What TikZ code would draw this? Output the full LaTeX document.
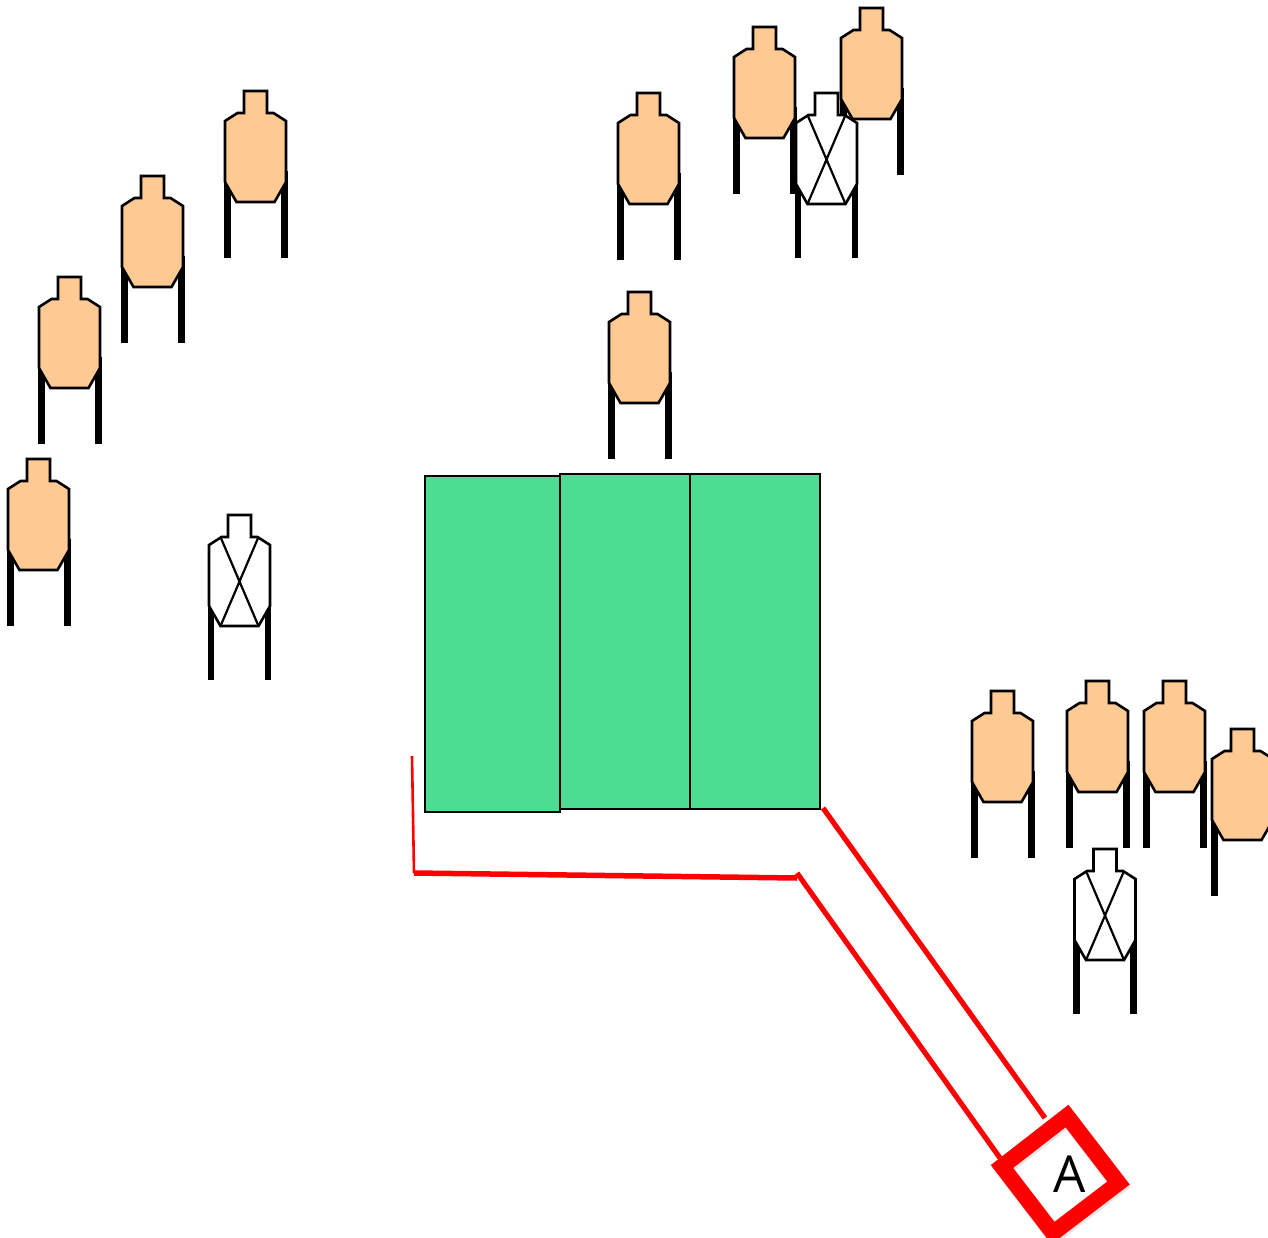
\documentclass[tikz,border=0pt]{standalone}
\usepackage{fontspec}
\setmainfont{Open Sans}
\definecolor{tan}{HTML}{FFC994}
\definecolor{pad}{HTML}{4CDD93}
\definecolor{tape}{HTML}{FF0000}
\tikzset{
  x=1pt,y=-1pt,
  outline/.style={draw=black,line width=2.6pt,line join=miter},
  legline/.style={line width=#1,draw=black},
  padbox/.style={draw=black,fill=pad,line width=1.9pt},
  tapeline/.style={draw=tape,line width=#1},
  tapeshade/.style={draw=black,opacity=0.10,line width=#1},
  body/.pic={
    \path[pic actions] (-11.5,0) -- (11.5,0) -- (11.5,22) -- (18,22) -- (30.5,30) -- (30.5,91) -- (19,111) -- (-19,111) -- (-30.5,91) -- (-30.5,30) -- (-18,22) -- (-11.5,22) -- cycle;
  },
  shoot/.pic={
    \draw[legline=7pt] (-28.5,80) -- (-28.5,167);
    \draw[legline=7pt] (28.5,80) -- (28.5,167);
    \path pic[outline,fill=tan] {body};
  },
  noshoot/.pic={
    \draw[legline=6.4pt] (-28.5,80) -- (-28.5,165);
    \draw[legline=6.4pt] (28.5,80) -- (28.5,165);
    \path pic[outline,fill=white] {body};
    \draw[line width=2.2pt] (-19,22) -- (19,111) (19,22) -- (-19,111);
  }
}
\begin{document}
\begin{tikzpicture}
\useasboundingbox (0,0) rectangle (1268,1238);
\clip (0,0) rectangle (1268,1238);
% targets
\path (255.5,91) pic {shoot};
\path (152.5,176) pic {shoot};
\path (69.5,277) pic {shoot};
\path (38.5,459) pic {shoot};
\path (648.5,93) pic {shoot};
\path (764.5,27) pic {shoot};
\path (871.5,8) pic {shoot};
\path (639.5,292) pic {shoot};
\path (1002.5,691) pic {shoot};
\path (1097.5,681) pic {shoot};
\path (1174.5,681) pic {shoot};
\path (1242.5,729) pic {shoot};
\path (239.5,515) pic {noshoot};
\path (826.5,93) pic {noshoot};
\path (1105,849) pic {noshoot};
% shooting area
\draw[padbox] (425,476) rectangle (560,812);
\draw[padbox] (560,474) rectangle (690,809);
\draw[padbox] (690,474) rectangle (820,809);
% fault lines
\coordinate (t0) at (412,756);
\coordinate (t1) at (414,873);
\coordinate (t2) at (797,878);
\coordinate (t3) at (797,873);
\coordinate (t4) at (1000,1158);
\coordinate (t5) at (823,808);
\coordinate (t6) at (1045,1118);
\begin{scope}[shift={(1,2.5)}]
\draw[tapeshade=4pt] (t1) -- (t2);
\draw[tapeshade=4pt] (t3) -- (t4);
\draw[tapeshade=4pt] (t5) -- (t6);
\draw[tapeshade=16pt,line join=miter] (1067,1116) -- (1118.5,1183) -- (1053,1233) -- (1002,1166.5) -- cycle;
\end{scope}
\draw[tapeline=2.6pt] (t0) -- (t1);
\draw[tapeline=5.5pt] (t1) -- (t2);
\draw[tapeline=5.2pt] (t3) -- (t4);
\draw[tapeline=5.2pt] (t5) -- (t6);
% shooting box
\draw[tapeline=16pt,line join=miter] (1067,1116) -- (1118.5,1183) -- (1053,1233) -- (1002,1166.5) -- cycle;
\node[inner sep=0pt,text=black,font=\fontsize{51}{51}\selectfont] (boxA) at (1070,1174) {A};
\end{tikzpicture}
\end{document}
